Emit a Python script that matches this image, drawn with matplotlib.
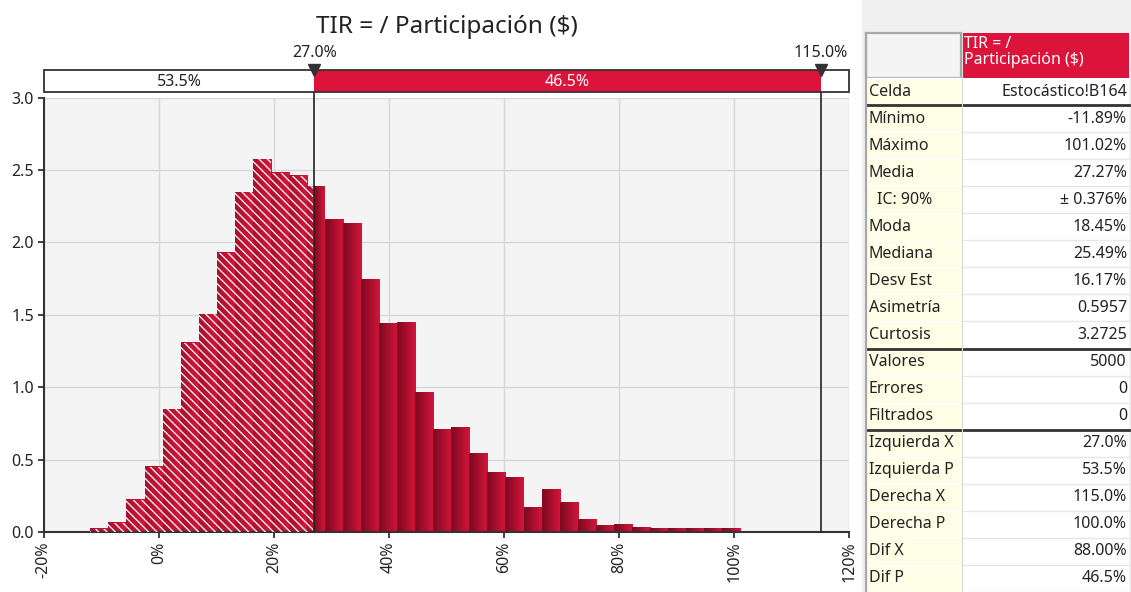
import numpy as np
import matplotlib
matplotlib.use('Agg')
import matplotlib.pyplot as plt
from matplotlib.colors import LinearSegmentedColormap
from matplotlib.patches import Rectangle

plt.rcParams['font.family'] = ['Noto Sans', 'DejaVu Sans']
plt.rcParams['hatch.linewidth'] = 0.9

# datos del histograma
title = 'TIR = / Participación ($)'
data_min = -11.89
data_max = 101.02
densidad = [0.023, 0.065, 0.223, 0.451, 0.846, 1.306, 1.503, 1.927, 2.345, 2.575,
            2.479, 2.460, 2.386, 2.157, 2.127, 1.743, 1.437, 1.448, 0.961, 0.710,
            0.720, 0.543, 0.410, 0.377, 0.168, 0.292, 0.203, 0.085, 0.044, 0.055,
            0.032, 0.021, 0.021, 0.021, 0.021, 0.021]
left_x = 27.0
right_x = 115.0
left_p = 53.5
mid_p = 46.5
x_ticks = [-20, 0, 20, 40, 60, 80, 100, 120]
y_ticks = [0.0, 0.5, 1.0, 1.5, 2.0, 2.5, 3.0]

# tabla de estadisticas
header = 'TIR = /\nParticipación ($)'
row_labels = ['Celda', 'Mínimo', 'Máximo', 'Media', 'IC: 90%', 'Moda', 'Mediana',
              'Desv Est', 'Asimetría', 'Curtosis', 'Valores', 'Errores', 'Filtrados',
              'Izquierda X', 'Izquierda P', 'Derecha X', 'Derecha P', 'Dif X', 'Dif P']
row_values = ['Estocástico!B164', '-11.89%', '101.02%', '27.27%', '± 0.376%', '18.45%',
              '25.49%', '16.17%', '0.5957', '3.2725', '5000', '0', '0', '27.0%', '53.5%',
              '115.0%', '100.0%', '88.00%', '46.5%']
thick_after = [0, 9, 12]

crimson = '#dc143c'
txt = '#222222'
W, H = 1131, 592
fs = 11.5

fig = plt.figure(figsize=(W / 100, H / 100), dpi=100)


def px(l, t, r, b):
    return [l / W, 1 - b / H, (r - l) / W, (b - t) / H]


# ---- panel derecho (tabla)
bg = fig.add_axes([0, 0, 1, 1])
bg.set_xlim(0, W)
bg.set_ylim(H, 0)
bg.axis('off')
bg.add_patch(Rectangle((862, 0), W - 862, H, color='#f0f0f0', lw=0))

L, M, R = 866, 961, 1129
top, hb = 33, 78
rh = (H - hb) / len(row_labels)
bg.add_patch(Rectangle((L, top), M - L, hb - top, fc='#f4f4f4', ec='#a8a8a8', lw=1.6))
bg.add_patch(Rectangle((M + 1.5, top), R - M - 1.5, hb - top, fc=crimson, lw=0))
bg.text(M + 3, top + 3, header, color='white', fontsize=fs, va='top', ha='left',
        linespacing=1.0)
for i, (lab, val) in enumerate(zip(row_labels, row_values)):
    y0 = hb + i * rh
    bg.add_patch(Rectangle((L, y0), M - L, rh, fc='#fefee6', ec='white', lw=1.0))
    bg.add_patch(Rectangle((M + 1.5, y0), R - M - 1.5, rh, fc='white', lw=0))
    bg.plot([M + 1.5, R], [y0 + rh, y0 + rh], color='#e8e8e8', lw=1.0)
    xl = L + 11 if lab.startswith('IC') else L + 3
    bg.text(xl, y0 + rh / 2, lab, fontsize=fs, color=txt, va='center', ha='left')
    bg.text(R - 2, y0 + rh / 2, val, fontsize=fs, color=txt, va='center', ha='right')
for i in thick_after:
    yy = hb + (i + 1) * rh
    bg.plot([L, M - 0.5], [yy, yy], color='#333333', lw=2)
    bg.plot([M + 2, R], [yy, yy], color='#333333', lw=2)
bg.plot([L, L], [top, H], color='#a8a8a8', lw=1.6)
bg.plot([M + 0.5, M + 0.5], [top, H], color='#d8d8d8', lw=0.8)

# ---- histograma
ax = fig.add_axes(px(43.7, 97.5, 849.3, 532))
ax.set_facecolor('#f4f4f4')
edges = np.linspace(data_min, data_max, len(densidad) + 1)
cmap = LinearSegmentedColormap.from_list('barra', ['#7c0a1f', '#d6143c'])
cmap_h = LinearSegmentedColormap.from_list('barra_h', ['#a8102c', '#d6163e'])
grad = np.linspace(0, 1, 64).reshape(1, -1)

for x0, x1, h in zip(edges[:-1], edges[1:], densidad):
    a, b = x0, min(x1, left_x)
    if b > a:
        ax.imshow(grad, extent=[a, b, 0, h], cmap=cmap_h, aspect='auto',
                  interpolation='bilinear', zorder=2)
        ax.bar(a, h, width=b - a, align='edge', facecolor='none', edgecolor='white',
               linewidth=0, hatch='\\\\\\\\', zorder=3)
    if x1 > left_x:
        c = max(x0, left_x)
        ax.imshow(grad, extent=[c, x1, 0, h], cmap=cmap, aspect='auto',
                  interpolation='bilinear', zorder=2)

ax.set_xlim(-20, 120)
ax.set_ylim(0, 3.0)
ax.set_xticks(x_ticks)
ax.set_xticklabels([f'{v}%' for v in x_ticks], rotation=90, fontsize=fs, color=txt)
ax.set_yticks(y_ticks)
ax.set_yticklabels([f'{v:.1f}' for v in y_ticks], fontsize=fs, color=txt)
ax.grid(True, color='#d6d6d6', lw=1.0, zorder=0)
ax.set_axisbelow(True)
for s in ['top', 'right']:
    ax.spines[s].set_visible(False)
for s in ['left', 'bottom']:
    ax.spines[s].set_color('#333333')
    ax.spines[s].set_linewidth(1.5)
ax.tick_params(length=4, width=1.3, color='#333333', pad=3)

for xv in [left_x, right_x]:
    ax.axvline(xv, ymin=0, ymax=1.015, color='#222222', lw=1.2, clip_on=False, zorder=4)

# ---- banda de probabilidades
bax = fig.add_axes(px(43.7, 70.3, 849.3, 92.3))
bax.set_xlim(-20, 120)
bax.set_ylim(0, 1)
bax.axis('off')
bax.add_patch(Rectangle((-20, 0), 140, 1, fc='white', lw=0, clip_on=False))
bax.add_patch(Rectangle((left_x, 0), right_x - left_x, 1, fc=crimson, lw=0))
bax.add_patch(Rectangle((-20, 0), 140, 1, fc='none', ec='#333333', lw=1.3, clip_on=False))
bax.text((-20 + left_x) / 2, 0.45, f'{left_p:.1f}%', ha='center', va='center',
         fontsize=fs, color=txt)
bax.text((left_x + right_x) / 2, 0.45, f'{mid_p:.1f}%', ha='center', va='center',
         fontsize=fs, color='white')
bax.plot([left_x, right_x], [1, 1], 'v', ms=9, color='#333333', clip_on=False, zorder=5)
for xv in [left_x, right_x]:
    bax.annotate(f'{xv:.1f}%', (xv, 1), xytext=(0, 17), textcoords='offset pixels',
                 ha='center', va='center', fontsize=fs, color=txt)

fig.text(446.5 / W, 1 - 27 / H, title, ha='center', va='center', fontsize=17.5, color=txt)

fig.savefig('out.png', dpi=100)
